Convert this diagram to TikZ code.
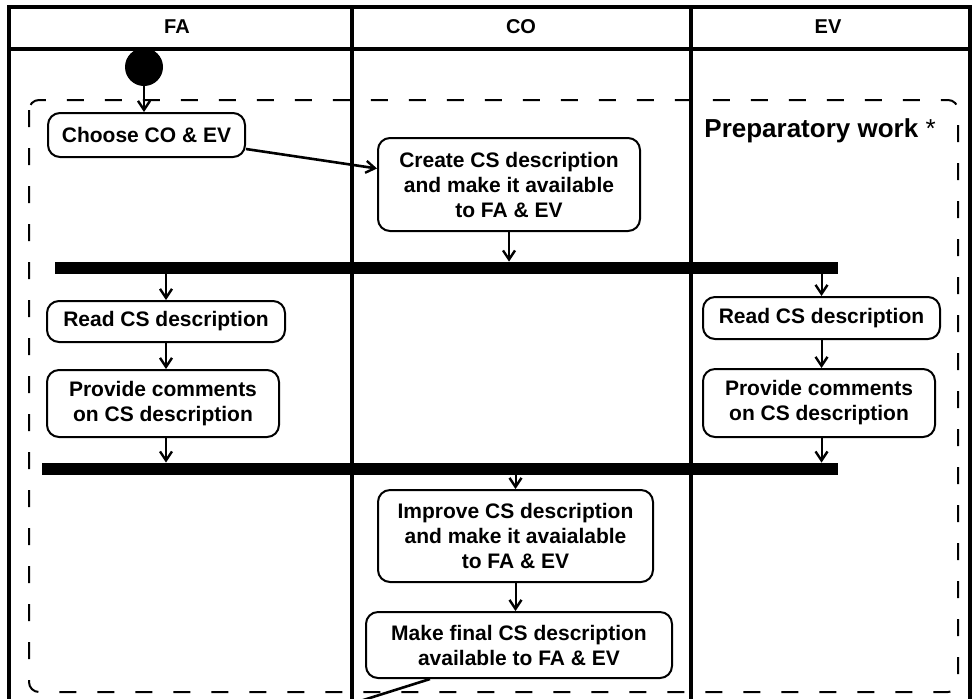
\documentclass[tikz,border=0pt]{standalone}
\usepackage{fontspec}
\setmainfont{Liberation Sans}
\usetikzlibrary{arrows.meta,calc}
\begin{document}
\begin{tikzpicture}[x=0.5pt,y=-0.5pt,
  lane/.style={line width=2.2pt},
  act/.style={draw,line width=1pt,rounded corners=6pt,align=center,inner sep=0pt,
    font=\bfseries\fontsize{10.5}{12.5}\selectfont},
  bar/.style={fill=black,inner sep=0pt,minimum height=6pt},
  flow/.style={line width=1pt,-{Straight Barb[length=4.5pt,width=6pt,line width=1.2pt]}},
  lanehead/.style={font=\bfseries\fontsize{10}{12}\selectfont},
  region/.style={line width=1pt,dash pattern=on 8.5pt off 10.5pt,rounded corners=5pt},
]
\useasboundingbox (0,0) rectangle (972,698);
\clip (0,0) rectangle (972,698);

% swimlanes
\draw[lane] (9,702) -- (9,7) -- (970,7) -- (970,702);
\draw[lane] (9,49) -- (970,49);
\draw[lane] (352,7) -- (352,702);
\draw[lane] (691,7) -- (691,702);
\node[lanehead] (hFA) at (177,27) {FA};
\node[lanehead] (hCO) at (521,27) {CO};
\node[lanehead] (hEV) at (828,27) {EV};

% preparatory work region
\draw[region] (29,100) rectangle (958,692);
\node[anchor=base west,inner sep=0pt,font=\bfseries\fontsize{13}{15}\selectfont] (prep) at (704,137) {Preparatory work \normalfont*};

% initial state
\node[circle,fill=black,minimum size=19pt,inner sep=0pt] (start) at (144,67) {};

% activities
\node[act,minimum width=98.5pt,minimum height=22pt] (choose) at (146.5,135) {Choose CO \& EV};
\node[act,minimum width=131pt,minimum height=46.5pt] (create) at (509,184.5)
  {Create CS description\\and make it available\\to FA \& EV};
\node[act,minimum width=119pt,minimum height=20.5pt] (readFA) at (166,321.5) {Read CS description};
\node[act,minimum width=116pt,minimum height=33.5pt] (provFA) at (163,403.5)
  {Provide comments\\on CS description};
\node[act,minimum width=118.5pt,minimum height=21pt] (readEV) at (821.5,318) {Read CS description};
\node[act,minimum width=116pt,minimum height=34pt] (provEV) at (819,403)
  {Provide comments\\on CS description};
\node[act,minimum width=137.5pt,minimum height=46pt] (improve) at (515.5,536)
  {Improve CS description\\and make it avaialable\\to FA \& EV};
\node[act,minimum width=153pt,minimum height=33pt] (final) at (519,645)
  {Make final CS description\\available to FA \& EV};

% fork / join bars
\node[bar,minimum width=391.5pt] (fork) at (446.5,268) {};
\node[bar,minimum width=398pt] (join) at (440,469) {};

% control flow
\draw[flow] (start.south) -- (start.south |- choose.north);
\draw[flow,line width=1.3pt] ($(choose.east)+(0,14)$) -- ($(create.west)+(0,-16)$);
\draw[flow] (create.south) -- (create.south |- fork.north);
\draw[flow] (fork.south -| readFA.north) -- (readFA.north);
\draw[flow] (fork.south -| readEV.north) -- (readEV.north);
\draw[flow] (readFA.south) -- (readFA.south |- provFA.north);
\draw[flow] (readEV.south) -- (readEV.south |- provEV.north);
\draw[flow] (readFA.south |- provFA.south) -- (readFA.south |- join.north);
\draw[flow] (readEV.south |- provEV.south) -- (readEV.south |- join.north);
\draw[flow] (join.south -| improve.north) -- (improve.north);
\draw[flow] (improve.south) -- (improve.south |- final.north);
\coordinate (exit) at (357,702);
\draw[line width=1.3pt] ($(final.south)+(-89,0)$) -- (exit);
\end{tikzpicture}
\end{document}
